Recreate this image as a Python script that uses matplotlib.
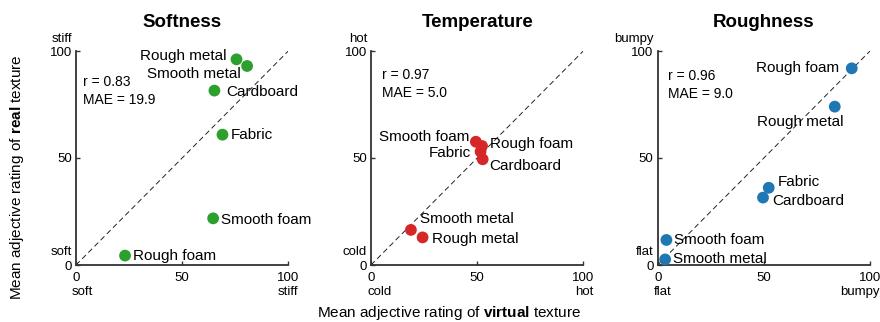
import matplotlib
matplotlib.use("Agg")
import matplotlib.pyplot as plt

plt.rcParams["font.family"] = ["Liberation Sans", "DejaVu Sans"]
plt.rcParams["mathtext.fontset"] = "custom"
plt.rcParams["mathtext.rm"] = "Liberation Sans"
plt.rcParams["mathtext.bf"] = "Liberation Sans:bold"

# Materials (same order in every panel)
materials = ["Rough metal", "Smooth metal", "Cardboard", "Fabric", "Smooth foam", "Rough foam"]

# Softness ratings
soft_virtual = [75.6, 80.6, 65.2, 69.0, 64.6, 23.1]
soft_real = [96.1, 93.0, 81.5, 60.9, 21.8, 4.4]

# Temperature ratings
temp_virtual = [24.3, 18.8, 52.6, 51.6, 49.4, 52.3]
temp_real = [12.9, 16.4, 49.4, 53.0, 57.6, 55.6]

# Roughness ratings
rough_virtual = [83.4, 3.5, 49.6, 52.3, 4.1, 91.4]
rough_real = [74.0, 2.6, 31.5, 36.1, 11.7, 91.9]

titles = ["Softness", "Temperature", "Roughness"]
low_words = ["soft", "cold", "flat"]
high_words = ["stiff", "hot", "bumpy"]
r_values = [0.83, 0.97, 0.96]
mae_values = [19.9, 5.0, 9.0]
colors = ["#2ca02c", "#d62728", "#1f77b4"]

# label placement: (dx px, dy px, horizontal alignment) per material
label_offsets = [
    [(-10, 3, "right"), (-6, -8, "right"), (12, -1, "left"), (8, 0, "left"), (8, -2, "left"), (8, 0, "left")],
    [(9, -2, "left"), (9, 11, "left"), (7, -7, "left"), (-10, -1, "right"), (-7, 5, "right"), (8, 2, "left")],
    [(9, -15, "right"), (8, 0, "left"), (9, -3, "left"), (9, 6, "left"), (8, 0, "left"), (-13, 0, "right")],
]
stats_pos = [(0.032, 0.857, 0.769), (0.05, 0.89, 0.803), (0.05, 0.883, 0.80)]

W, H = 880, 322
fig = plt.figure(figsize=(W / 100, H / 100), dpi=100)
lefts = [76, 371, 657.7]
axw, axh = 212.3, 214
bottom_px = 265

spine_col = "#333333"
datasets = [(soft_virtual, soft_real), (temp_virtual, temp_real), (rough_virtual, rough_real)]

for i, (xv, yv) in enumerate(datasets):
    ax = fig.add_axes([lefts[i] / W, 1 - bottom_px / H, axw / W, axh / H])
    ax.set_xlim(0, 100)
    ax.set_ylim(0, 100)
    for s in ["top", "right"]:
        ax.spines[s].set_visible(False)
    for s in ["left", "bottom"]:
        ax.spines[s].set_color(spine_col)
        ax.spines[s].set_linewidth(1.3)
    ax.set_xticks([0, 50, 100])
    ax.set_yticks([0, 50, 100])
    ax.set_xticklabels(["0", "50", "100"])
    ax.set_yticklabels(["0", "50", "100"])
    ax.tick_params(direction="in", length=3, width=1.0, color=spine_col,
                   labelsize=9.5, pad=3, labelcolor="black")
    ax.tick_params(axis="x", pad=5)
    ax.patch.set_alpha(0)

    ax.plot([0, 100], [0, 100], color="#222222", lw=0.7, dashes=(5.5, 3.5), zorder=1)
    ax.scatter(xv, yv, s=72, color=colors[i], edgecolors="none", zorder=3)

    for name, x, y, (dx, dy, ha) in zip(materials, xv, yv, label_offsets[i]):
        ax.annotate(name, (x, y), xytext=(dx, dy), textcoords="offset pixels",
                    ha=ha, va="center", fontsize=11, zorder=4)

    sx, ry, my = stats_pos[i]
    ax.text(sx, ry, f"r = {r_values[i]:.2f}", transform=ax.transAxes,
            ha="left", va="center", fontsize=10)
    ax.text(sx, my, f"MAE = {mae_values[i]:.1f}", transform=ax.transAxes,
            ha="left", va="center", fontsize=10)

    ax.set_title(titles[i], fontsize=13.5, fontweight="bold", pad=17)

    # word labels next to the numeric ticks
    ax.annotate(low_words[i], (0, 0), xycoords="axes fraction", xytext=(-4, -27),
                textcoords="offset pixels", ha="left", va="center", fontsize=9.5)
    ax.annotate(high_words[i], (1, 0), xycoords="axes fraction", xytext=(10, -27),
                textcoords="offset pixels", ha="right", va="center", fontsize=9.5)
    ax.annotate(low_words[i], (0, 0), xycoords="axes fraction", xytext=(-4, 13),
                textcoords="offset pixels", ha="right", va="center", fontsize=9.5)
    ax.annotate(high_words[i], (0, 1), xycoords="axes fraction", xytext=(-4, 12),
                textcoords="offset pixels", ha="right", va="center", fontsize=9.5)

fig.text(449 / W, 1 - 313 / H, r"Mean adjective rating of $\mathbf{virtual}$ texture",
         ha="center", va="center", fontsize=11)
fig.text(17 / W, 1 - 177 / H, r"Mean adjective rating of $\mathbf{real}$ texture",
         ha="center", va="center", fontsize=11, rotation=90)

fig.savefig("out.png", dpi=100)
